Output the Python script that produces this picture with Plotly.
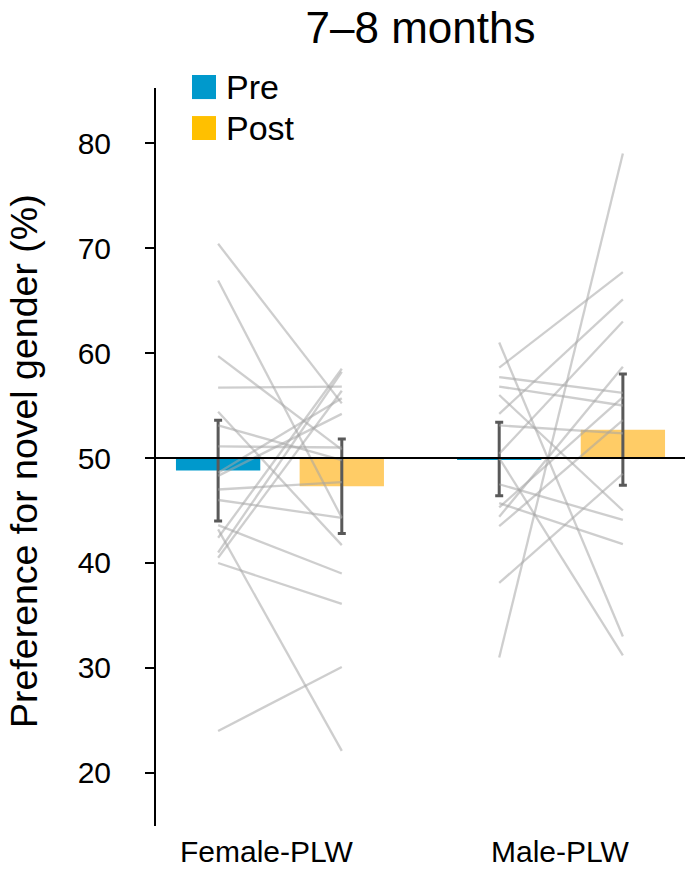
import plotly.graph_objects as go

# ---------------- data ----------------
groups = ["Female-PLW", "Male-PLW"]
conditions = ["Pre", "Post"]

# group means (%) and error half-widths
pre_mean = [48.8, 49.9]
post_mean = [47.3, 52.7]
pre_err = [4.8, 3.5]
post_err = [4.5, 5.3]

# individual infants (pre, post)
female_pre = [70.4, 66.9, 59.7, 56.7, 54.4, 53.1, 51.1, 48.6, 48.3, 47.0,
              46.0, 43.6, 43.2, 42.4, 41.0, 40.5, 40.0, 24.0]
female_post = [55.2, 44.3, 50.8, 56.8, 41.7, 49.8, 51.0, 55.7, 54.2, 47.7,
               44.3, 39.0, 22.1, 58.5, 58.2, 56.4, 36.1, 30.1]
male_pre = [31.0, 58.6, 54.2, 50.4, 57.7, 56.8, 53.1, 61.0, 50.0, 38.1,
            56.0, 47.5, 45.7, 44.4, 45.3, 43.5]
male_post = [79.0, 67.7, 65.1, 63.0, 56.2, 55.0, 52.35, 33.0, 31.2, 48.5,
             45.0, 44.1, 41.8, 58.7, 55.8, 53.6]

y_ticks = [20, 30, 40, 50, 60, 70, 80]
title_text = "7–8 months"
y_title = "Preference for novel gender (%)"

# ---------------- styling ----------------
FONT = "Liberation Sans, Arial, Helvetica, sans-serif"
PRE_BAR = "#0099CC"
POST_BAR = "#FFCC66"
PRE_LEG = "#0099CC"
POST_LEG = "#FFC000"
ERR_COL = "#595959"
LINE_COL = "rgba(165,165,165,0.55)"
BASE = 50
OFF = 0.22
BW = 0.30

W, H = 685, 877

group_x = [1, 2]

fig = go.Figure()

# bars hanging from the 50% chance line
fig.add_trace(go.Bar(
    x=[g - OFF for g in group_x],
    y=[m - BASE for m in pre_mean],
    base=BASE, width=BW, marker=dict(color=PRE_BAR, line=dict(width=0)),
    name="Pre", showlegend=False,
    error_y=dict(type="data", array=pre_err, color=ERR_COL, thickness=3, width=4),
))
fig.add_trace(go.Bar(
    x=[g + OFF for g in group_x],
    y=[m - BASE for m in post_mean],
    base=BASE, width=BW, marker=dict(color=POST_BAR, line=dict(width=0)),
    name="Post", showlegend=False,
    error_y=dict(type="data", array=post_err, color=ERR_COL, thickness=3, width=4),
))

# individual lines
def subject_lines(gx, pre, post):
    xs, ys = [], []
    for a, b in zip(pre, post):
        xs += [gx - OFF, gx + OFF, None]
        ys += [a, b, None]
    return xs, ys

for gx, pre, post in [(group_x[0], female_pre, female_post),
                      (group_x[1], male_pre, male_post)]:
    xs, ys = subject_lines(gx, pre, post)
    fig.add_trace(go.Scatter(x=xs, y=ys, mode="lines",
                             line=dict(color=LINE_COL, width=2.3),
                             showlegend=False, hoverinfo="skip"))

# chance line at 50%
fig.add_shape(type="line", xref="paper", x0=0, x1=1, yref="y", y0=BASE, y1=BASE,
              line=dict(color="black", width=2), layer="above")

# manual legend
leg_items = [("Pre", PRE_LEG, 1.0176, 0.985, 1.0014),
             ("Post", POST_LEG, 0.962, 0.9295, 0.9458)]
for name, col, y0, y1, yt in leg_items:
    fig.add_shape(type="rect", xref="paper", yref="paper",
                  x0=0.068, x1=0.1134, y0=y1, y1=y0,
                  fillcolor=col, line=dict(width=0))
    fig.add_annotation(xref="paper", yref="paper", x=0.129, y=yt,
                       text=name, showarrow=False, xanchor="left", yanchor="middle",
                       font=dict(family=FONT, size=34, color="black"))

# category labels
label_shift = [-13, -1]
for gx, name, sh in zip(group_x, groups, label_shift):
    fig.add_annotation(xref="x", yref="paper", x=gx, y=-0.0352, xshift=sh,
                       text=name, showarrow=False, xanchor="center", yanchor="middle",
                       font=dict(family=FONT, size=30, color="black"))

# y-axis title
fig.add_annotation(xref="paper", yref="paper", x=(24 - 156) / 529, y=0.4946,
                   text=y_title, showarrow=False, textangle=-90,
                   xanchor="center", yanchor="middle",
                   font=dict(family=FONT, size=37.5, color="black"))

fig.update_layout(
    width=W, height=H,
    margin=dict(l=156, r=0, t=88, b=51),
    paper_bgcolor="white", plot_bgcolor="white",
    barmode="overlay",
    title=dict(text=title_text, x=0.5, xref="paper", y=1 - 28 / H,
               yref="container", xanchor="center", yanchor="middle",
               font=dict(family=FONT, size=44, color="black")),
    xaxis=dict(range=[0.559, 2.441], showgrid=False, zeroline=False,
               showline=False, showticklabels=False, ticks=""),
    yaxis=dict(range=[14.95, 85.24], tickvals=y_ticks, showgrid=False,
               zeroline=False, showline=True, linecolor="black", linewidth=2,
               ticks="outside", ticklen=9, tickwidth=2, tickcolor="black",
               ticklabelstandoff=28,
               tickfont=dict(family=FONT, size=30, color="black")),
    showlegend=False,
)

fig.write_html("out.html", config={"displayModeBar": False},
               post_script="document.body.style.margin='0';")
